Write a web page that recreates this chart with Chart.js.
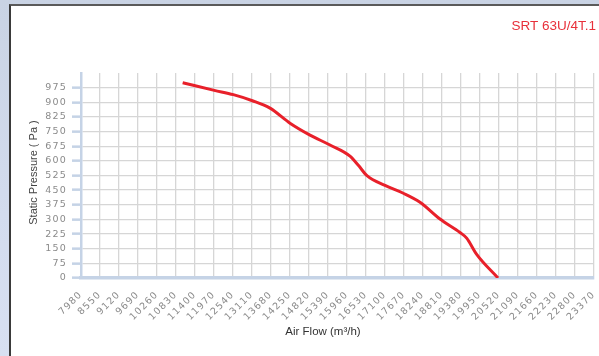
<!DOCTYPE html>
<html>
<head>
<meta charset="utf-8">
<script src="https://cdn.jsdelivr.net/npm/chart.js@4/dist/chart.umd.min.js"></script>
<style>
  html, body { margin: 0; padding: 0; }
  body { width: 599px; height: 356px; overflow: hidden; position: relative;
         background: linear-gradient(180deg, #c9d3e4 0%, #d3dcee 60%, #d8e0f2 100%); }
  #panel { position: absolute; left: 9px; top: 4px; width: 600px; height: 360px;
           background: #fff; border-left: 2px solid #3a3a3a; border-top: 2px solid #5a5a5a; }
  #wrap { position: absolute; left: 0; top: 0; width: 599px; height: 356px; }
</style>
</head>
<body>
<div id="panel"></div>
<div id="wrap"><canvas id="c" width="599" height="356"></canvas></div>
<script>
// Data
const chartTitle = "SRT 63U/4T.1";
const xAxisTitle = "Air Flow (m\u00B3/h)";
const yAxisTitle = "Static Pressure ( Pa )";
const airFlow = [11030, 11980, 12550, 13120, 13650, 14250, 14850, 15450, 16050, 16300, 16550, 17100, 17650, 18150, 18750, 19350, 19550, 19850, 20490];
const pressure = [1000, 961, 939, 908, 870, 793, 732, 681, 624, 577, 526, 474, 434, 388, 302, 233, 204, 121, 0];
const xTickStart = 7980, xTickEnd = 23370, xTickStep = 570;
const yTickMax = 1050, yTickStep = 75;

const points = airFlow.map((x, i) => ({ x: x, y: pressure[i] }));

const textPlugin = {
  id: 'textPlugin',
  beforeDraw(chart) {
    chart.ctx.letterSpacing = '1.2px';
  },
  afterDraw(chart) {
    const ctx = chart.ctx;
    ctx.save();
    ctx.letterSpacing = '0px';
    ctx.fillStyle = '#e8303a';
    ctx.font = '13.5px "Liberation Sans", Arial, sans-serif';
    ctx.textAlign = 'right';
    ctx.textBaseline = 'alphabetic';
    ctx.fillText(chartTitle, 596, 30);
    ctx.fillStyle = '#333';
    ctx.font = '11.5px "Liberation Sans", Arial, sans-serif';
    ctx.textAlign = 'center';
    ctx.textBaseline = 'middle';
    ctx.fillText(xAxisTitle, 323, 332);
    const ca = chart.chartArea;
    ctx.translate(34, (ca.top + ca.bottom) / 2 - 3);
    ctx.rotate(-Math.PI / 2);
    ctx.fillStyle = '#444';
    ctx.font = '11px "Liberation Sans", Arial, sans-serif';
    ctx.fillText(yAxisTitle, 0, 0);
    ctx.restore();
  }
};

new Chart(document.getElementById('c'), {
  type: 'scatter',
  data: {
    datasets: [{
      data: points,
      showLine: true,
      borderColor: '#e8202a',
      backgroundColor: '#e8202a',
      borderWidth: 3,
      pointRadius: 0,
      tension: 0.35,
      cubicInterpolationMode: 'monotone',
      fill: false
    }]
  },
  options: {
    responsive: false,
    animation: false,
    layout: { padding: { top: 73, right: 5, left: 0, bottom: 0 } },
    plugins: { legend: { display: false }, tooltip: { enabled: false }, title: { display: false } },
    scales: {
      x: {
        type: 'linear',
        min: xTickStart,
        max: xTickEnd,
        afterFit(scale) { scale.height = 78; scale.paddingLeft = 0; scale.paddingRight = 0; },
        afterBuildTicks(scale) {
          const t = [];
          for (let v = xTickStart; v <= xTickEnd; v += xTickStep) t.push({ value: v });
          scale.ticks = t;
        },
        ticks: {
          autoSkip: false,
          minRotation: 45,
          maxRotation: 45,
          padding: 11,
          color: '#8a8a8a',
          font: { family: '"DejaVu Sans", sans-serif', size: 9.5 },
          callback: (v) => String(v)
        },
        grid: { color: '#d6d6d6', lineWidth: 1.3, drawTicks: false },
        border: { display: true, color: '#c5d3e6', width: 3.5 }
      },
      y: {
        min: 0,
        max: yTickMax,
        afterFit(scale) { scale.width = 81; scale.paddingTop = 0; scale.paddingBottom = 0; },
        ticks: {
          stepSize: yTickStep,
          padding: 5,
          color: '#8a8a8a',
          font: { family: '"DejaVu Sans", sans-serif', size: 9.5 },
          callback: (v) => (v === yTickMax ? '' : String(v))
        },
        grid: {
          color: (c) => (c.tick && c.tick.value === yTickMax ? 'rgba(0,0,0,0)' : '#d6d6d6'),
          tickColor: (c) => (c.tick && c.tick.value === yTickMax ? 'rgba(0,0,0,0)' : '#c5d3e6'),
          lineWidth: 1.3,
          tickWidth: 2.5,
          tickLength: 9
        },
        border: { display: true, color: '#c5d3e6', width: 2.5 },
        title: { display: false }
      }
    }
  },
  plugins: [textPlugin]
});
</script>
</body>
</html>
